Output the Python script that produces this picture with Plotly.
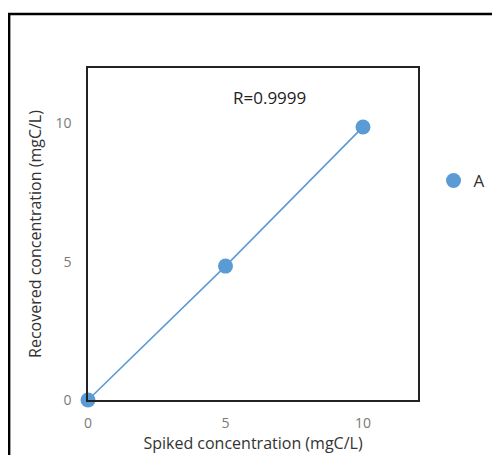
import plotly.graph_objects as go

spiked = [0, 5, 10]
recovered = [0, 4.84, 9.87]
series_name = "A"
annotation_text = "R=0.9999"
x_title = "Spiked concentration (mgC/L)"
y_title = "Recovered concentration (mgC/L)"
tick_vals = [0, 5, 10]

blue = "#5B9BD5"
fig = go.Figure()
fig.add_trace(go.Scatter(
    x=spiked, y=recovered, mode="lines+markers", name=series_name,
    line=dict(color=blue, width=1.6),
    marker=dict(color=blue, size=15),
    cliponaxis=False, showlegend=False,
))
fig.add_trace(go.Scatter(
    x=[None], y=[None], mode="markers", name=series_name,
    marker=dict(color=blue, size=15), showlegend=True,
))

font_family = "Open Sans, Noto Sans, sans-serif"
fig.update_layout(
    width=492, height=447,
    margin=dict(l=80, r=82, t=60, b=55, autoexpand=False),
    paper_bgcolor="white", plot_bgcolor="white",
    font=dict(family=font_family),
    showlegend=True,
    legend=dict(x=1.047, y=0.66, xanchor="left", yanchor="middle",
                font=dict(size=17, color="#333"), itemwidth=30,
                bgcolor="rgba(0,0,0,0)"),
    xaxis=dict(range=[0, 12], tickvals=tick_vals, showgrid=False, zeroline=False,
               automargin=False,
               showline=True, mirror=True, linecolor="#222", linewidth=1.5,
               tickfont=dict(size=14, color="#7a7a7a"), ticklabelstandoff=9,
               title=dict(text=x_title, font=dict(size=16, color="#333"), standoff=0)),
    yaxis=dict(range=[0, 12], tickvals=tick_vals, showgrid=False, zeroline=False,
               automargin=False,
               showline=True, mirror=True, linecolor="#222", linewidth=1.5,
               tickfont=dict(size=14, color="#7a7a7a"), ticklabelstandoff=12,
               title=dict(text=y_title, font=dict(size=16, color="#333"), standoff=10)),
    annotations=[dict(text=annotation_text, x=0.55, y=0.91, xref="paper", yref="paper",
                      xanchor="center", yanchor="middle",
                      showarrow=False, font=dict(size=17, color="#222"))],
    shapes=[dict(type="rect", xref="paper", yref="paper",
                 x0=-0.239, x1=1.3, y0=-0.3, y1=1.163,
                 line=dict(color="black", width=2.5), layer="below")],
)

fig.write_html("out.html")
